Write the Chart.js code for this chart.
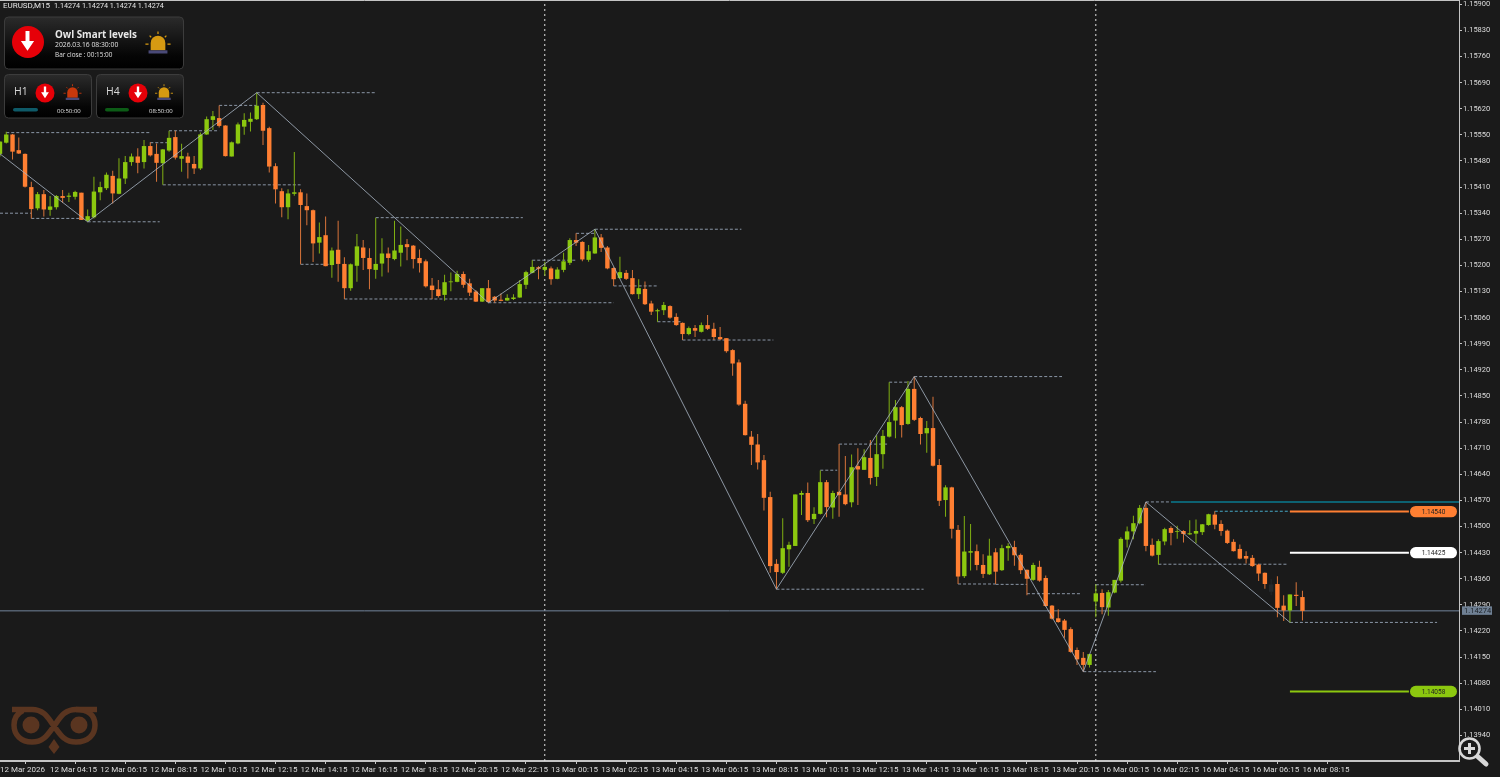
<!DOCTYPE html>
<html>
<head>
<meta charset="utf-8">
<title>EURUSD,M15</title>
<script src="https://cdn.jsdelivr.net/npm/chart.js@4/dist/chart.umd.min.js"></script>
<style>
html, body { margin: 0; padding: 0; background: #1a1a1a; overflow: hidden; }
#wrap { position: relative; width: 1500px; height: 777px; }
#chart { position: absolute; left: 0; top: 0; }
.overlay { position: absolute; left: 0; top: 0; pointer-events: none; }
#title { position: absolute; left: 3px; top: 0px; color: #e4e4e4; font: 8px Roboto, sans-serif; white-space: pre; line-height: 11px; }
#title span { font-size: 7.2px; }
</style>
</head>
<body>
<div id="wrap">
<canvas id="chart" width="1500" height="777"></canvas>
<div id="title">EURUSD,M15  <span>1.14274 1.14274 1.14274 1.14274</span></div>

<svg class="overlay" width="190" height="125" font-family="Open Sans, sans-serif">
  <defs>
    <linearGradient id="panel" x1="0" y1="0" x2="0" y2="1">
      <stop offset="0" stop-color="#2b2b2b"/><stop offset="0.75" stop-color="#050505"/><stop offset="1" stop-color="#000"/>
    </linearGradient>
    <g id="arrow"><path d="M-1.8 -10 H1.8 V-1 H6 L0 8 L-6 -1 H-1.8 Z" fill="#fff"/></g>
    <g id="bell">
      <path d="M-7 7 V0 A7 7 0 0 1 7 0 V7 Z" fill="currentColor"/>
      <rect x="-9" y="7" width="18" height="3" fill="#4a4a78"/>
      <path d="M0 -11 V-8.5 M-8 -7 L-6.5 -5.5 M8 -7 L6.5 -5.5 M-12 1 H-9 M12 1 H9" stroke="currentColor" stroke-width="1.2"/>
    </g>
  </defs>
  <rect x="4.5" y="17" width="179" height="52" rx="4" fill="url(#panel)" stroke="#3c3c3c"/>
  <circle cx="28" cy="42" r="16" fill="#e60008"/>
  <use href="#arrow" transform="translate(27.5,42) scale(1.1)"/>
  <text x="55" y="37.5" fill="#e8e8e8" font-size="9.8" font-weight="700">Owl Smart levels</text>
  <text x="55" y="47" fill="#e0e0e0" font-size="6.8">2026.03.16 08:30:00</text>
  <text x="55" y="57" fill="#e0e0e0" font-size="6.4">Bar close : 00:15:00</text>
  <use href="#bell" transform="translate(158,43) scale(1.05)" color="#d69a12"/>

  <rect x="4.5" y="74.5" width="87" height="43.5" rx="4" fill="url(#panel)" stroke="#3c3c3c"/>
  <text x="14" y="95" fill="#d8d8d8" font-size="10.5">H1</text>
  <circle cx="45" cy="93" r="9.5" fill="#e60008"/>
  <use href="#arrow" transform="translate(45,93) scale(0.65)"/>
  <use href="#bell" transform="translate(72.5,92.5) scale(0.75)" color="#c8380c"/>
  <rect x="13" y="108" width="25" height="3.6" rx="1.8" fill="#0e5a68"/>
  <text x="57" y="113" fill="#e0e0e0" font-size="6">00:50:00</text>

  <rect x="96.5" y="74.5" width="87" height="43.5" rx="4" fill="url(#panel)" stroke="#3c3c3c"/>
  <text x="106" y="95" fill="#d8d8d8" font-size="10.5">H4</text>
  <circle cx="138" cy="93" r="9.5" fill="#e60008"/>
  <use href="#arrow" transform="translate(138,93) scale(0.65)"/>
  <use href="#bell" transform="translate(164,92.5) scale(0.75)" color="#d69a12"/>
  <rect x="105" y="108" width="24" height="3.6" rx="1.8" fill="#0c5c16"/>
  <text x="149" y="113" fill="#e0e0e0" font-size="6">08:50:00</text>
</svg>

<!-- owl watermark -->
<svg class="overlay" style="left:10px;top:704px" width="92" height="52">
  <g fill="none" stroke="#5a3520" stroke-width="5.5">
    <path d="M2 5.5 H22 C34 5.5 38 14 44 22 C50 30 54 38 66 38 C78 38 85 31 85 21 C85 11 78 5.5 66 5.5 C54 5.5 50 14 44 22 C38 30 34 38 22 38 C11 38 4 31 4 21 C4 14 8 9 13 6.5"/>
    <path d="M66 5.5 H87"/>
  </g>
  <circle cx="21" cy="21" r="8.5" fill="#5a3520"/>
  <circle cx="69" cy="21" r="8.5" fill="#5a3520"/>
  <path d="M44 35 L49.5 43 L44 50 L38.5 43 Z" fill="#5a3520"/>
</svg>

<!-- zoom glass -->
<svg class="overlay" style="left:1455px;top:734px" width="36" height="36">
  <path d="M21 21 L31 30" stroke="#d8d8d8" stroke-width="5" stroke-linecap="round"/>
  <circle cx="14.5" cy="14.5" r="10" fill="#1a1a1a" stroke="#d8d8d8" stroke-width="2.6"/>
  <path d="M14.5 9 V20 M9 14.5 H20" stroke="#d8d8d8" stroke-width="3"/>
</svg>
</div>

<script>
// prices are kept in points (1 point = 0.00001)
const opens = [
  115499,115529,115551,115509,115499,115410,115353,115391,115349,115356,
  115386,115384,115384,115395,115320,115329,115396,115407,115440,115392,
  115433,115477,115492,115477,115520,115499,115474,115508,115544,115486,
  115492,115472,115460,115551,115590,115595,115575,115492,115527,115572,
  115585,115592,115630,115568,115466,115399,115356,115392,115396,115359,
  115348,115261,115281,115201,115242,115204,115139,115199,115248,115220,
  115188,115205,115232,115217,115234,115257,115253,115220,115211,115146,
  115136,115121,115155,115156,115177,115152,115130,115103,115139,115116,
  115108,115106,115110,115114,115148,115180,115195,115188,115192,115164,
  115188,115207,115268,115263,115215,115232,115275,115248,115193,115166,
  115180,115166,115123,115137,115098,115077,115080,115091,115062,115046,
  115016,115032,115022,115040,115030,115008,115005,114973,114940,114829,
  114741,114720,114678,114579,114400,114376,114439,114448,114585,114590,
  114520,114534,114619,114551,114593,114586,114565,114662,114652,114684,
  114633,114694,114741,114784,114820,114775,114869,114791,114750,114764,
  114665,114571,114605,114491,114367,114430,114434,114397,114372,114431,
  114383,114442,114445,114424,114384,114357,114392,114362,114288,114254,
  114248,114225,114169,114148,114129,114299,114322,114283,114323,114355,
  114465,114487,114509,114550,114451,114424,114460,114496,114486,114488,
  114479,114481,114485,114504,114532,114507,114489,114459,114440,114421,
  114416,114398,114376,114345,114346,114288,114275,114317,114311
];
const closes = [
  115532,115551,115505,115500,115411,115351,115391,115350,115358,115386,
  115381,115387,115397,115322,115332,115398,115410,115443,115393,115433,
  115477,115492,115475,115520,115495,115475,115511,115542,115489,115493,
  115475,115460,115551,115592,115600,115574,115493,115530,115578,115590,
  115593,115628,115561,115465,115404,115356,115393,115396,115362,115348,
  115259,115276,115198,115240,115204,115139,115203,115251,115220,115190,
  115204,115232,115220,115240,115255,115249,115217,115206,115144,115134,
  115118,115155,115157,115177,115148,115127,115103,115139,115102,115106,
  115105,115113,115114,115150,115182,115196,115191,115196,115163,115189,
  115211,115268,115261,115216,115238,115275,115247,115192,115163,115182,
  115164,115123,115139,115096,115076,115080,115094,115060,115040,115016,
  115032,115025,115040,115030,115008,115002,114970,114937,114827,114745,
  114719,114672,114577,114394,114378,114442,114451,114586,114590,114517,
  114534,114619,114552,114590,114584,114560,114659,114653,114686,114630,
  114694,114743,114780,114820,114772,114869,114786,114748,114764,114663,
  114569,114605,114494,114366,114433,114434,114397,114373,114422,114379,
  114442,114448,114423,114383,114360,114397,114355,114287,114253,114244,
  114223,114164,114144,114129,114158,114321,114284,114324,114357,114467,
  114487,114509,114550,114448,114422,114461,114493,114483,114488,114480,
  114482,114488,114506,114533,114505,114488,114456,114434,114414,114414,
  114394,114374,114346,114325,114282,114275,114318,114314,114274
];
const highs = [
  115532,115558,115552,115543,115500,115424,115397,115402,115386,115389,
  115402,115395,115400,115395,115350,115438,115424,115449,115454,115487,
  115493,115500,115514,115536,115530,115527,115512,115561,115561,115526,
  115502,115493,115556,115599,115614,115629,115576,115532,115583,115608,
  115610,115663,115636,115572,115474,115407,115404,115504,115404,115393,
  115350,115315,115331,115248,115320,115222,115205,115284,115268,115246,
  115328,115273,115248,115320,115304,115271,115255,115243,115216,115166,
  115161,115175,115181,115186,115184,115164,115134,115139,115161,115118,
  115125,115123,115123,115161,115186,115214,115198,115210,115197,115195,
  115234,115273,115286,115265,115255,115297,115284,115252,115195,115223,
  115188,115188,115163,115157,115105,115084,115102,115093,115072,115047,
  115036,115040,115047,115067,115046,115035,115005,114975,114948,114837,
  114756,114748,114692,114593,114412,114522,114459,114586,114596,114618,
  114552,114650,114625,114596,114721,114689,114693,114710,114707,114732,
  114745,114759,114887,114839,114823,114890,114902,114794,114783,114848,
  114681,114611,114607,114504,114528,114507,114452,114426,114467,114442,
  114451,114455,114462,114428,114385,114403,114408,114369,114290,114278,
  114252,114230,114176,114164,114158,114345,114332,114330,114357,114471,
  114500,114529,114558,114566,114468,114466,114497,114501,114502,114490,
  114517,114519,114507,114534,114541,114517,114492,114466,114452,114434,
  114424,114400,114377,114359,114367,114316,114318,114351,114328
];
const lows = [
  115492,115527,115484,115499,115409,115326,115348,115331,115333,115350,
  115368,115370,115377,115322,115317,115326,115375,115402,115366,115391,
  115418,115467,115447,115460,115492,115424,115416,115505,115484,115451,
  115433,115445,115456,115550,115563,115570,115492,115492,115525,115550,
  115559,115590,115523,115449,115366,115329,115324,115387,115203,115308,
  115209,115232,115198,115167,115156,115110,115132,115156,115188,115136,
  115164,115170,115181,115214,115197,115214,115192,115181,115141,115110,
  115114,115105,115131,115155,115140,115118,115102,115102,115100,115100,
  115104,115105,115107,115113,115137,115179,115163,115172,115148,115163,
  115182,115201,115252,115211,115210,115231,115236,115190,115145,115164,
  115161,115122,115110,115094,115067,115049,115067,115057,115038,115000,
  115013,115008,115020,115027,115000,115000,114966,114904,114824,114744,
  114665,114653,114543,114376,114332,114373,114392,114448,114531,114512,
  114507,114532,114525,114521,114526,114557,114552,114558,114652,114613,
  114609,114655,114739,114737,114739,114773,114783,114720,114698,114661,
  114555,114526,114468,114346,114362,114382,114383,114362,114370,114346,
  114381,114408,114395,114373,114316,114355,114352,114285,114251,114242,
  114202,114162,114129,114111,114122,114257,114265,114261,114321,114350,
  114444,114466,114506,114434,114420,114398,114450,114450,114467,114457,
  114477,114455,114477,114502,114493,114475,114453,114433,114412,114401,
  114392,114354,114333,114316,114257,114247,114243,114287,114248
];
const fadedBars = [203];

// zigzag swing points
const swingBars = [0, 14, 41, 78, 95, 124, 146, 173, 183, 206];
const swingPrices = [115499, 115317, 115663, 115100, 115297, 114332, 114902, 114111, 114566, 114243];

// dashed support/resistance levels
const levelPrices = [115556, 115340, 115326, 115317, 115529, 115561, 115629, 115663, 115416, 115203,
  115328, 115110, 115100, 115214, 115286, 115297, 115145, 115049, 115000, 114332,
  114651, 114721, 114887, 114902, 114346, 114345, 114320, 114111, 114344, 114566,
  114399, 114541, 114243];
const levelFrom = [1, 0, 5, 14, 24, 27, 35, 41, 26, 48,
  60, 55, 78, 85, 92, 95, 98, 105, 109, 124,
  131, 134, 142, 146, 153, 159, 164, 173, 175, 183,
  185, 194, 206];
const levelTo = [24, 5, 13, 25.5, 27, 35, 41, 60, 48, 53,
  83.5, 75.5, 98, 92, 95, 118.4, 105, 109, 123.5, 147.5,
  133.7, 141.7, 146, 169.6, 159, 164, 172.5, 184.6, 183, 187,
  205.6, 206, 229.5];

// labelled target lines on the right
const targetPrices = [114540, 114430, 114058];
const targetLabels = ['1.14540', '1.14425', '1.14058'];
const targetColors = ['#ff7f32', '#ffffff', '#8cc80f'];

const tealLevel = 114566;
const lastPrice = 114274;
const separators = [87, 175];

const timeLabels = ['12 Mar 2026', '12 Mar 04:15', '12 Mar 06:15', '12 Mar 08:15', '12 Mar 10:15', '12 Mar 12:15',
  '12 Mar 14:15', '12 Mar 16:15', '12 Mar 18:15', '12 Mar 20:15', '12 Mar 22:15',
  '13 Mar 00:15', '13 Mar 02:15', '13 Mar 04:15', '13 Mar 06:15', '13 Mar 08:15', '13 Mar 10:15',
  '13 Mar 12:15', '13 Mar 14:15', '13 Mar 16:15', '13 Mar 18:15', '13 Mar 20:15',
  '16 Mar 00:15', '16 Mar 02:15', '16 Mar 04:15', '16 Mar 06:15', '16 Mar 08:15'];
const labelStep = 8;

const priceTicks = [115900, 115830, 115760, 115690, 115620, 115550, 115480, 115410, 115340, 115270,
  115200, 115130, 115060, 114990, 114920, 114850, 114780, 114710, 114640, 114570,
  114500, 114430, 114360, 114290, 114220, 114150, 114080, 114010, 113940];

const UP = '#8cc80f', DOWN = '#ff7f32', FADED = '#25292b';
const LEVEL = '#8a96a6', AXIS = '#c4c4c4', TEXT = '#dcdcdc';
const FONT = 'Roboto, sans-serif';
const Y_MAX = 115911.5, Y_MIN = 113871.5, X_MAX = 233;

const fmt = v => (v / 100000).toFixed(5);
const barColor = (i, up, down) => fadedBars.includes(i) ? FADED : (closes[i] >= opens[i] ? up : down);

function segment(label, x1, x2, y, color, width, dash, order) {
  return { type: 'line', label, data: [{ x: x1, y }, { x: x2, y }], borderColor: color, borderWidth: width,
    borderDash: dash, pointRadius: 0, tension: 0, order };
}

const datasets = [
  { type: 'line', label: 'zigzag', data: swingBars.map((b, i) => ({ x: b, y: swingPrices[i] })),
    borderColor: 'rgba(170,182,198,0.8)', borderWidth: 1, pointRadius: 0, tension: 0, order: 1 },
  { type: 'bar', label: 'bodies', data: opens.map((o, i) => ({ x: i, y: [o, closes[i]] })),
    backgroundColor: opens.map((o, i) => barColor(i, UP, DOWN)), barThickness: 4.4, grouped: false,
    borderWidth: 0, inflateAmount: 0, order: 2 },
  { type: 'bar', label: 'wicks', data: highs.map((h, i) => ({ x: i, y: [lows[i], h] })),
    backgroundColor: opens.map((o, i) => barColor(i, '#80b012', '#d8743a')), barThickness: 1, grouped: false,
    borderWidth: 0, inflateAmount: 0, order: 3 },
  segment('last price', 0, X_MAX, lastPrice, '#71849a', 1, [], 5),
  segment('teal level', 187, X_MAX, tealLevel, '#0d6272', 2, [], 4)
];
levelPrices.forEach((p, i) => {
  const c = i === 31 ? '#46a6c4' : LEVEL;
  datasets.push(segment('level ' + i, levelFrom[i], levelTo[i], p, c, 1, [3, 2], 4));
});
separators.forEach(b => {
  datasets.push({ type: 'line', label: 'separator', data: [{ x: b, y: Y_MIN }, { x: b, y: Y_MAX }],
    borderColor: '#e0e0e0', borderWidth: 1, borderDash: [2, 3], pointRadius: 0, order: 6 });
});
targetPrices.forEach((p, i) => {
  datasets.push(segment('target ' + targetLabels[i], 206, 225, p, targetColors[i], 2, [], 4));
});

const overlay = {
  id: 'overlay',
  afterDraw(chart) {
    const { ctx, scales: { y }, chartArea } = chart;
    ctx.save();
    // top frame line
    ctx.strokeStyle = AXIS;
    ctx.lineWidth = 1;
    ctx.beginPath();
    ctx.moveTo(0, 0.5);
    ctx.lineTo(chartArea.right, 0.5);
    ctx.stroke();

    ctx.textBaseline = 'middle';
    ctx.textAlign = 'center';
    ctx.font = '6.5px ' + FONT;
    targetPrices.forEach((p, i) => {
      const py = y.getPixelForValue(p);
      ctx.fillStyle = targetColors[i];
      ctx.beginPath();
      ctx.roundRect(1410, py - 5.7, 47, 11.4, 5.7);
      ctx.fill();
      ctx.fillStyle = '#222';
      ctx.fillText(targetLabels[i], 1433.5, py + 0.5);
    });

    // current price tag
    const ly = y.getPixelForValue(lastPrice);
    ctx.fillStyle = '#6f8094';
    ctx.fillRect(1462, ly - 4.5, 30, 8.5);
    ctx.fillStyle = '#1c2228';
    ctx.font = '7.5px ' + FONT;
    ctx.textAlign = 'left';
    ctx.fillText(fmt(lastPrice), 1464, ly);
    ctx.restore();
  }
};

// the axis boxes are fixed so the plot area spans the same pixels as the terminal window
function fixBox(s, w, h) {
  if (w) s.width = w;
  if (h) s.height = h;
  s.paddingLeft = s.paddingRight = s.paddingTop = s.paddingBottom = 0;
}

new Chart(document.getElementById('chart').getContext('2d'), {
  data: { datasets },
  plugins: [overlay],
  options: {
    responsive: false,
    animation: false,
    events: [],
    layout: { padding: 0 },
    plugins: { legend: { display: false }, tooltip: { enabled: false } },
    scales: {
      x: {
        type: 'linear', min: 0, max: X_MAX, offset: false,
        afterFit(s) { fixBox(s, 0, 16); },
        afterBuildTicks(s) { s.ticks = timeLabels.map((_, k) => ({ value: k * labelStep })); },
        grid: { drawOnChartArea: false, drawTicks: true, tickLength: 3, color: AXIS },
        border: { color: AXIS, width: 2 },
        ticks: { autoSkip: false, maxRotation: 0, align: 'start', padding: 1, color: TEXT,
          font: { family: FONT, size: 8 }, callback: v => timeLabels[v / labelStep] }
      },
      y: {
        position: 'right', min: Y_MIN, max: Y_MAX,
        afterFit(s) { fixBox(s, 41, 0); },
        afterBuildTicks(s) { s.ticks = priceTicks.map(value => ({ value })); },
        grid: { drawOnChartArea: false, drawTicks: true, tickLength: 3, color: AXIS },
        border: { color: AXIS, width: 1 },
        ticks: { autoSkip: false, padding: 1, color: TEXT, font: { family: FONT, size: 7.5 }, callback: v => fmt(v) }
      }
    }
  }
});
</script>
</body>
</html>
